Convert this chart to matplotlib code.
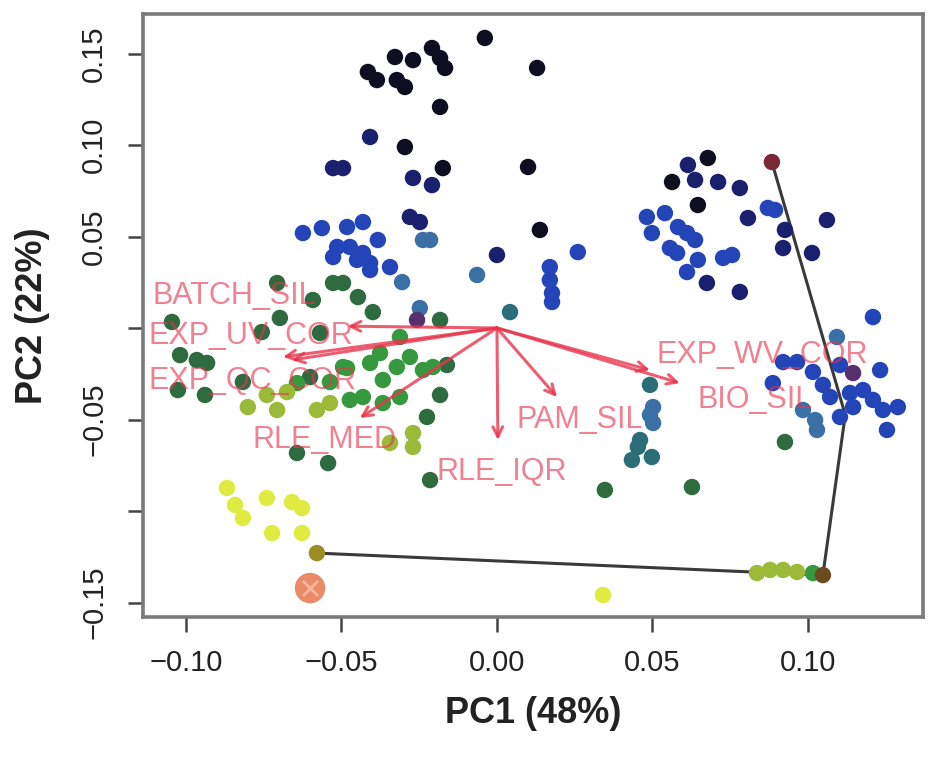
import matplotlib
matplotlib.use("Agg")
import matplotlib.pyplot as plt

plt.rcParams['font.family'] = ['Liberation Sans', 'DejaVu Sans']

# ---- sample scores (PC1, PC2), grouped by rank colour ----
black_pc1 = [-0.0039, -0.0328, -0.0270, -0.0209, -0.0183, -0.0167, -0.0415, -0.0386, -0.0322,
             -0.0296, -0.0183, -0.0296, -0.0174, 0.0129, 0.0100, 0.0138, 0.0678, 0.0563, 0.0646]
black_pc2 = [0.1585, 0.1481, 0.1464, 0.1530, 0.1475, 0.1421, 0.1399, 0.1355, 0.1355,
             0.1317, 0.1208, 0.0989, 0.0874, 0.1421, 0.0880, 0.0536, 0.0929, 0.0798, 0.0672]

navy_pc1 = [-0.0408, -0.0527, -0.0495, -0.0270, -0.0209, -0.0280, -0.0248, 0.0000, 0.0637,
            0.0711, 0.0781, 0.0614, 0.0807, 0.1061, 0.0926, 0.0920, 0.1013, 0.0781, 0.0675]
navy_pc2 = [0.1044, 0.0874, 0.0874, 0.0820, 0.0781, 0.0607, 0.0579, 0.0399, 0.0809,
            0.0798, 0.0765, 0.0891, 0.0601, 0.0590, 0.0536, 0.0437, 0.0410, 0.0197, 0.0246]

blue_pc1 = [-0.0624, -0.0563, -0.0482, -0.0431, -0.0514, -0.0473, -0.0431, -0.0383, -0.0408,
            -0.0344, -0.0527, -0.0450, -0.0408, 0.0260, 0.0170, 0.0170, 0.0177, 0.0177,
            0.0482, 0.0540, 0.0498, 0.0582, 0.0611, 0.0637, 0.0556, 0.0579, 0.0646, 0.0611,
            0.0727, 0.0756, 0.0871, 0.0894, 0.1209, 0.0920, 0.0965, 0.0887, 0.1016, 0.1048,
            0.1103, 0.1232, 0.1071, 0.1135, 0.1177, 0.1209, 0.1241, 0.1289, 0.1145, 0.1254,
            0.1103]
blue_pc2 = [0.0519, 0.0546, 0.0552, 0.0579, 0.0443, 0.0443, 0.0410, 0.0481, 0.0355,
            0.0333, 0.0388, 0.0372, 0.0317, 0.0415, 0.0333, 0.0262, 0.0191, 0.0142,
            0.0607, 0.0628, 0.0519, 0.0552, 0.0519, 0.0481, 0.0437, 0.0410, 0.0372, 0.0306,
            0.0383, 0.0399, 0.0656, 0.0645, 0.0060, -0.0186, -0.0186, -0.0301, -0.0240, -0.0311,
            -0.0202, -0.0230, -0.0377, -0.0355, -0.0339, -0.0393, -0.0448, -0.0432, -0.0432,
            -0.0557, -0.0486]

steel_pc1 = [-0.0215, -0.0238, -0.0305, -0.0064, 0.1093, 0.0984, 0.1023, 0.1029, -0.0248,
             0.0502, 0.0492, 0.0502]
steel_pc2 = [0.0481, 0.0481, 0.0251, 0.0290, -0.0049, -0.0448, -0.0503, -0.0557, 0.0109,
             -0.0432, -0.0475, -0.0519]

teal_pc1 = [0.0042, 0.0492, 0.0460, 0.0453, 0.0498, 0.0434]
teal_pc2 = [0.0087, -0.0311, -0.0612, -0.0650, -0.0705, -0.0721]

purple_pc1 = [0.1145, -0.0257]
purple_pc2 = [-0.0246, 0.0044]

dgreen_pc1 = [0.0347, 0.0627, 0.0926, -0.1045, -0.0698, -0.0756, -0.1019, -0.0965, -0.0932,
              -0.1026, -0.0939, -0.0707, -0.0527, -0.0495, -0.0447, -0.0592, -0.0399, -0.0183,
              -0.0569, -0.0643, -0.0543, -0.0215, -0.0817, -0.0601, -0.0225, -0.0183, -0.0161]
dgreen_pc2 = [-0.0885, -0.0869, -0.0623, 0.0033, 0.0055, -0.0022, -0.0148, -0.0175, -0.0191,
              -0.0339, -0.0366, 0.0246, 0.0246, 0.0246, 0.0169, 0.0153, 0.0087, 0.0044,
              -0.0027, -0.0683, -0.0738, -0.0831, -0.0295, -0.0268, -0.0486, -0.0366, -0.0202]

green_pc1 = [-0.0482, -0.0408, -0.0367, -0.0322, -0.0280, -0.0238, -0.0206, -0.0537, -0.0431,
             -0.0473, -0.0367, -0.0312, -0.0312, -0.0376, -0.0495, -0.0643, 0.1016]
green_pc2 = [-0.0219, -0.0191, -0.0284, -0.0213, -0.0158, -0.0230, -0.0213, -0.0295, -0.0377,
             -0.0393, -0.0410, -0.0377, -0.0049, -0.0137, -0.0213, -0.0301, -0.1339]

ygreen_pc1 = [-0.0801, -0.0740, -0.0675, -0.0707, -0.0537, -0.0579, -0.0344, -0.0270, -0.0270,
              0.0836, 0.0878, 0.0920, 0.0965]
ygreen_pc2 = [-0.0432, -0.0366, -0.0350, -0.0448, -0.0410, -0.0448, -0.0628, -0.0574, -0.0650,
              -0.1339, -0.1322, -0.1322, -0.1333]

yellow_pc1 = [-0.0868, -0.0842, -0.0817, -0.0740, -0.0723, -0.0659, -0.0627, -0.0627, 0.0341]
yellow_pc2 = [-0.0874, -0.0967, -0.1038, -0.0929, -0.1120, -0.0951, -0.0984, -0.1120, -0.1459]

# single highlighted samples
olive_pt = (-0.0579, -0.1230)
brown_pt = (0.1048, -0.1350)
maroon_pt = (0.0884, 0.0907)
best_pt = (-0.0601, -0.1421)

# path linking selected samples
path_pc1 = [-0.0579, 0.1048, 0.1120, 0.0884]
path_pc2 = [-0.1230, -0.1350, -0.0475, 0.0907]

# ---- metric loadings (arrow tips) and label anchors ----
metrics = ['BATCH_SIL', 'EXP_UV_COR', 'EXP_QC_COR', 'RLE_MED',
           'RLE_IQR', 'PAM_SIL', 'BIO_SIL', 'EXP_WV_COR']
load_pc1 = [-0.0480, -0.0688, -0.0660, -0.0441, 0.0003, 0.0193, 0.0588, 0.0492]
load_pc2 = [0.0010, -0.0158, -0.0175, -0.0492, -0.0612, -0.0377, -0.0301, -0.0230]
label_pc1 = [-0.0845, -0.0792, -0.0785, -0.0556, 0.0016, 0.0267, 0.0830, 0.0852]
label_pc2 = [0.0175, -0.0044, -0.0290, -0.0612, -0.0787, -0.0503, -0.0393, -0.0148]

x_ticks = [-0.10, -0.05, 0.00, 0.05, 0.10]
x_ticklabels = ['\u22120.10', '\u22120.05', '0.00', '0.05', '0.10']
y_ticks = [-0.15, -0.10, -0.05, 0.00, 0.05, 0.10, 0.15]
y_ticklabels = ['\u22120.15', '', '\u22120.05', '', '0.05', '0.10', '0.15']

fig = plt.figure(figsize=(9.3, 7.6), dpi=100)
ax = fig.add_axes([0.1538, 0.1882, 0.8387, 0.7934])
ax.set_xlim(-0.1138, 0.1370)
ax.set_ylim(-0.1579, 0.1716)

dot = 140
groups = [
    (black_pc1, black_pc2, '#0e0e20'),
    (navy_pc1, navy_pc2, '#1b206e'),
    (blue_pc1, blue_pc2, '#2345b8'),
    (steel_pc1, steel_pc2, '#3a70a6'),
    (teal_pc1, teal_pc2, '#2b6e78'),
    (purple_pc1, purple_pc2, '#56306e'),
    (dgreen_pc1, dgreen_pc2, '#2e6b3f'),
    (green_pc1, green_pc2, '#36993f'),
    (ygreen_pc1, ygreen_pc2, '#9cba3a'),
    (yellow_pc1, yellow_pc2, '#dfeb40'),
]
for xs, ys, c in groups:
    ax.scatter(xs, ys, s=dot, color=c, edgecolors='none', zorder=3)

ax.plot(path_pc1, path_pc2, color='#3a3a3a', lw=2.2, zorder=2.5)
ax.scatter(*olive_pt, s=dot, color='#9a8f25', edgecolors='none', zorder=4)
ax.scatter(*brown_pt, s=dot, color='#6b4a22', edgecolors='none', zorder=4)
ax.scatter(*maroon_pt, s=dot, color='#7a2838', edgecolors='none', zorder=4)
ax.scatter(*best_pt, s=480, color='#ea8a66', edgecolors='none', zorder=4)
ax.scatter(*best_pt, s=120, marker='x', color='#f6b89c', linewidths=2, zorder=5)

# loadings
for name, lx, ly, tx, ty in zip(metrics, load_pc1, load_pc2, label_pc1, label_pc2):
    ax.annotate('', xy=(lx, ly), xytext=(0, 0),
                arrowprops=dict(arrowstyle='->,head_length=0.7,head_width=0.35',
                                color='#e8344c', lw=2.2, alpha=0.8,
                                shrinkA=0, shrinkB=0),
                zorder=6)
    ax.text(tx, ty, name, color='#e8344c', alpha=0.62, fontsize=22,
            ha='center', va='center', zorder=7)

# frame and axes in base-graphics style
for sp in ax.spines.values():
    sp.set_color('#7a7a7a')
    sp.set_linewidth(2.6)
ax.set_xticks(x_ticks)
ax.set_xticklabels(x_ticklabels)
ax.set_yticks(y_ticks)
ax.set_yticklabels(y_ticklabels, rotation=90, va='center')
ax.tick_params(axis='both', direction='out', length=11, width=1.8,
               color='#444444', labelsize=21, labelcolor='#222222')
ax.tick_params(axis='x', pad=12)
ax.tick_params(axis='y', pad=14)
ax.set_xlabel('PC1 (48%)', fontsize=26, fontweight='bold', color='#222222', labelpad=14)
ax.set_ylabel('PC2 (22%)', fontsize=26, fontweight='bold', color='#222222', labelpad=22)

fig.savefig('out.png', dpi=100)
